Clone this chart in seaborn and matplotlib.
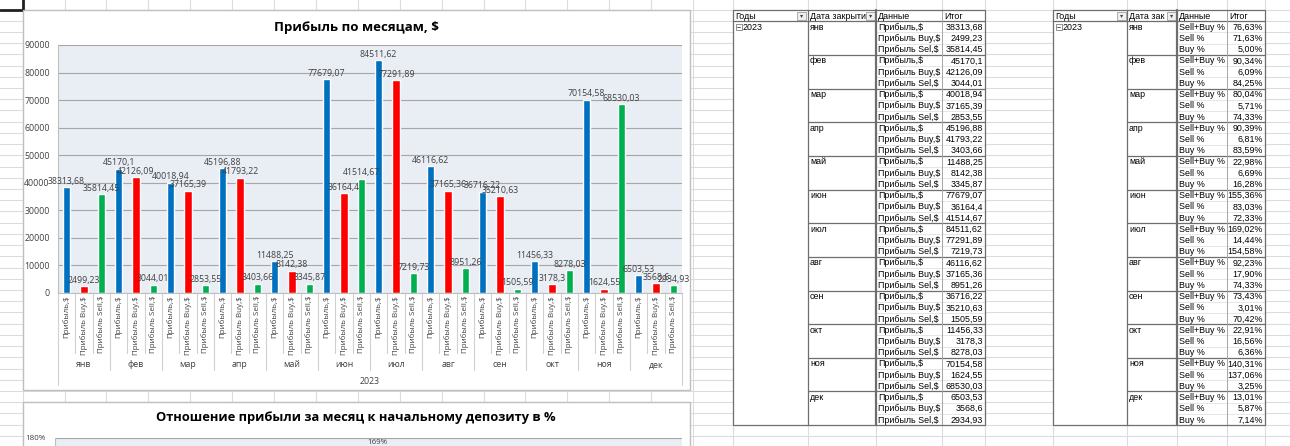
import numpy as np
import pandas as pd
import matplotlib
matplotlib.use("Agg")
import matplotlib.pyplot as plt
from matplotlib.patches import Rectangle
import seaborn as sns

# -------------------------------------------
# DATA
# -------------------------------------------
year = "2023"
months = ["янв", "фев", "мар", "апр", "май", "июн",
          "июл", "авг", "сен", "окт", "ноя", "дек"]

profit_series = ["Прибыль,$", "Прибыль Buy,$", "Прибыль Sell,$"]
profit_table_labels = ["Прибыль,$", "Прибыль Buy,$", "Прибыль Sel,$"]
profit_total = [38313.68, 45170.1, 40018.94, 45196.88, 11488.25, 77679.07,
                84511.62, 46116.62, 36716.22, 11456.33, 70154.58, 6503.53]
profit_buy = [2499.23, 42126.09, 37165.39, 41793.22, 8142.38, 36164.4,
              77291.89, 37165.36, 35210.63, 3178.3, 1624.55, 3568.6]
profit_sell = [35814.45, 3044.01, 2853.55, 3403.66, 3345.87, 41514.67,
               7219.73, 8951.26, 1505.59, 8278.03, 68530.03, 2934.93]

pct_series = ["Sell+Buy %", "Sell %", "Buy %"]
pct_total = [76.63, 90.34, 80.04, 90.39, 22.98, 155.36,
             169.02, 92.23, 73.43, 22.91, 140.31, 13.01]
pct_sell = [71.63, 6.09, 5.71, 6.81, 6.69, 83.03,
            14.44, 17.90, 3.01, 16.56, 137.06, 5.87]
pct_buy = [5.00, 84.25, 74.33, 83.59, 16.28, 72.33,
           154.58, 74.33, 70.42, 6.36, 3.25, 7.14]

colors = ["#0070C0", "#FF0000", "#00B050"]


def fmt_num(v):
    s = f"{v:.2f}".rstrip("0").rstrip(".")
    return s.replace(".", ",")


def fmt_pct(v):
    return f"{v:.2f}%".replace(".", ",")


def long_df(series, cols):
    rows = []
    for name, vals in zip(series, cols):
        for m, v in zip(months, vals):
            rows.append({"month": m, "series": name, "value": v})
    return pd.DataFrame(rows)


df_profit = long_df(profit_series, [profit_total, profit_buy, profit_sell])
df_pct = long_df(pct_series, [pct_total, pct_sell, pct_buy])

# -------------------------------------------
# FIGURE / SHEET BACKGROUND
# -------------------------------------------
W, H = 1290, 446
sns.set_style("white")
plt.rcParams["font.family"] = ["Open Sans", "DejaVu Sans"]

fig = plt.figure(figsize=(W / 100, H / 100), dpi=100)
fig.patch.set_facecolor("white")


def fig_rect(x0, y0, x1, y1):
    return [x0 / W, 1 - y1 / H, (x1 - x0) / W, (y1 - y0) / H]


bg = fig.add_axes([0, 0, 1, 1], zorder=0)
bg.set_xlim(0, W)
bg.set_ylim(H, 0)
bg.axis("off")

grid_c = "#DADCDD"
row_h = 11.22
row0 = 9.5
for k in range(-1, 41):
    y = row0 + k * row_h
    bg.plot([0, W], [y, y], color=grid_c, lw=0.8)
col_x = list(np.arange(22.7, 700, 41.9)) + [733, 808, 876, 942, 985,
                                           1053, 1127, 1177, 1227, 1265]
for x in col_x:
    bg.plot([x, x], [0, H], color=grid_c, lw=0.8)

# selected cell
bg.plot([0, 22.7, 22.7], [row0, row0, 0], color="#202020", lw=2)

# chart boxes
bg.add_patch(Rectangle((22.7, 10), 667, 380, facecolor="white",
                       edgecolor="#BFBFBF", lw=1, zorder=3))
bg.add_patch(Rectangle((22.7, 402), 667, 80, facecolor="white",
                       edgecolor="#BFBFBF", lw=1, zorder=3))

bg.text(356, 27, "Прибыль по месяцам, $", ha="center", va="center",
        fontsize=9.5, fontweight="bold", color="black", zorder=4)
bg.text(356, 418, "Отношение прибыли за месяц к начальному депозиту в %",
        ha="center", va="center", fontsize=9.3, fontweight="bold",
        color="black", zorder=4)

# -------------------------------------------
# PIVOT TABLES
# -------------------------------------------
tfont = ["Liberation Sans", "DejaVu Sans"]


def dropdown(x0, y0):
    bg.add_patch(Rectangle((x0, y0 + 1.5), 9, 8, facecolor="#EFEFEF",
                           edgecolor="#A0A0A0", lw=0.6, zorder=6))
    bg.text(x0 + 4.5, y0 + 5.6, "▾", ha="center", va="center",
            fontsize=4.5, color="#404040", family=tfont, zorder=7)


def pivot(xs, headers, drop_x, labels, cols, fmt):
    x0, x1, x2, x3, x4 = xs
    top = 10
    hb = top + row_h
    n = len(months) * len(labels)
    bottom = hb + n * row_h
    bg.add_patch(Rectangle((x0, top), x4 - x0, bottom - top,
                           facecolor="white", edgecolor="none", zorder=4))
    for i in range(n):
        y = hb + (i + 1) * row_h
        bg.plot([x2, x4], [y, y], color="#E2E2E2", lw=0.6, zorder=5)
    for hx, h in zip([x0, x1, x2, x3], headers):
        bg.text(hx + 2, top + row_h / 2 + 0.5, h, ha="left", va="center",
                fontsize=6.4, color="black", family=tfont, zorder=6)
    for dx in drop_x:
        dropdown(dx, top)
    bg.plot([x0, x4], [hb, hb], color="#6E6E6E", lw=0.9, zorder=6)
    bg.add_patch(Rectangle((x0 + 3, hb + 3), 5.5, 5.5, facecolor="white",
                           edgecolor="#808080", lw=0.6, zorder=6))
    bg.plot([x0 + 4.2, x0 + 7.3], [hb + 5.75, hb + 5.75], color="#404040",
            lw=0.6, zorder=7)
    bg.text(x0 + 10, hb + row_h / 2 + 0.5, year, ha="left", va="center",
            fontsize=6.4, color="black", family=tfont, zorder=6)
    for mi, m in enumerate(months):
        gy = hb + mi * len(labels) * row_h
        bg.text(x1 + 2, gy + row_h / 2 + 0.5, m, ha="left", va="center",
                fontsize=6.4, color="black", family=tfont, zorder=6)
        if mi > 0:
            bg.plot([x1, x4], [gy, gy], color="#6E6E6E", lw=0.9, zorder=6)
        for j, lab in enumerate(labels):
            ry = gy + j * row_h + row_h / 2 + 0.5
            bg.text(x2 + 2, ry, lab, ha="left", va="center", fontsize=6.4,
                    color="black", family=tfont, zorder=6)
            bg.text(x4 - 2, ry, fmt(cols[j][mi]), ha="right", va="center",
                    fontsize=6.4, color="black", family=tfont, zorder=6)
    bg.plot([x3, x3], [top, bottom], color="#A6A6A6", lw=0.7, zorder=6)
    bg.plot([x1, x1], [top, bottom], color="#6E6E6E", lw=0.9, zorder=6)
    bg.plot([x2, x2], [top, bottom], color="#6E6E6E", lw=1.6, zorder=6)
    bg.add_patch(Rectangle((x0, top), x4 - x0, bottom - top,
                           facecolor="none", edgecolor="#6E6E6E", lw=0.9,
                           zorder=7))


pivot([733, 808, 876, 942, 985],
      ["Годы", "Дата закрыти", "Данные", "Итог"], [797, 866],
      profit_table_labels, [profit_total, profit_buy, profit_sell], fmt_num)
pivot([1053, 1127, 1177, 1227, 1265],
      ["Годы", "Дата зак", "Данные", "Итог"], [1117, 1167],
      pct_series, [pct_total, pct_sell, pct_buy], fmt_pct)

# -------------------------------------------
# MAIN BAR CHART
# -------------------------------------------
text_c = "#404040"
ax = fig.add_axes(fig_rect(58, 45, 682, 293), zorder=5)
sns.barplot(data=df_profit, x="month", y="value", hue="series",
            order=months, hue_order=profit_series, palette=colors,
            saturation=1, width=1.0, gap=0.58, dodge=True, errorbar=None,
            legend=False, ax=ax)
ax.set_facecolor("#E9EDF4")
ax.set_ylim(0, 90000)
ax.set_xlim(-0.5, len(months) - 0.5)
ax.set_yticks(np.arange(0, 90001, 10000))
ax.yaxis.grid(True, color="#A6A6A6", lw=0.8)
ax.set_axisbelow(True)
ax.tick_params(axis="y", labelsize=6.3, colors=text_c, length=0, pad=6)
for s in ["top", "right"]:
    ax.spines[s].set_visible(False)
ax.spines["left"].set_color("#BFBFBF")
ax.spines["bottom"].set_color("#BFBFBF")
ax.set_xlabel("")
ax.set_ylabel("")

for cont, vals in zip(ax.containers, [profit_total, profit_buy, profit_sell]):
    ax.bar_label(cont, labels=[fmt_num(v) for v in vals], fontsize=6.3,
                 color=text_c, padding=1)

n_s = len(profit_series)
tick_pos = [m + (j - 1) / n_s for m in range(len(months)) for j in range(n_s)]
tick_lab = [profit_series[j] for m in range(len(months)) for j in range(n_s)]
ax.set_xticks(tick_pos)
ax.set_xticklabels(tick_lab, rotation=90, va="top", ha="center",
                   fontsize=5.8, color=text_c)
ax.tick_params(axis="x", length=0, pad=2)

tr = ax.get_xaxis_transform()
sep_c = "#D0D0D0"
for m in range(len(months)):
    ax.text(m, -0.29, months[m], transform=tr, ha="center", va="center",
            fontsize=6.3, color=text_c)
    for off in (-0.5 / n_s, 0.5 / n_s):
        ax.plot([m + off, m + off], [0, -0.242], transform=tr,
                color=sep_c, lw=0.8, clip_on=False)
for b in range(len(months) + 1):
    yb = -0.371 if b in (0, len(months)) else -0.31
    ax.plot([b - 0.5, b - 0.5], [0, yb], transform=tr, color=sep_c,
            lw=0.8, clip_on=False)
ax.text(0.5, -0.355, year, transform=ax.transAxes, ha="center",
        va="center", fontsize=6.3, color=text_c)

# -------------------------------------------
# SECOND CHART (only its top is visible)
# -------------------------------------------
ax2 = fig.add_axes(fig_rect(55, 438, 682, 590), zorder=5)
sns.barplot(data=df_pct, x="month", y="value", hue="series",
            order=months, hue_order=pct_series, palette=colors,
            saturation=1, width=1.0, gap=0.58, dodge=True, errorbar=None,
            legend=False, ax=ax2)
ax2.set_facecolor("#E9EDF4")
ax2.set_ylim(0, 180)
ax2.set_xlim(-0.5, len(months) - 0.5)
ax2.set_yticks(np.arange(0, 181, 20))
ax2.set_yticklabels([f"{v:.0f}%" for v in np.arange(0, 181, 20)])
ax2.yaxis.grid(True, color="#A6A6A6", lw=0.8)
ax2.set_axisbelow(True)
ax2.tick_params(axis="y", labelsize=5.8, colors=text_c, length=0, pad=7)
ax2.set_xticks([])
ax2.set_xlabel("")
ax2.set_ylabel("")
for s in ["top", "right", "bottom"]:
    ax2.spines[s].set_visible(False)
ax2.spines["left"].set_color("#BFBFBF")
# only the tallest labels fall inside the visible strip of this chart
vis_min = 0.92 * ax2.get_ylim()[1]
for cont, vals in zip(ax2.containers, [pct_total, pct_sell, pct_buy]):
    ax2.bar_label(cont, labels=[f"{v:.0f}%" if v >= vis_min else ""
                                for v in vals],
                  fontsize=5.8, color=text_c, padding=1)

fig.savefig("out.png", dpi=100)
